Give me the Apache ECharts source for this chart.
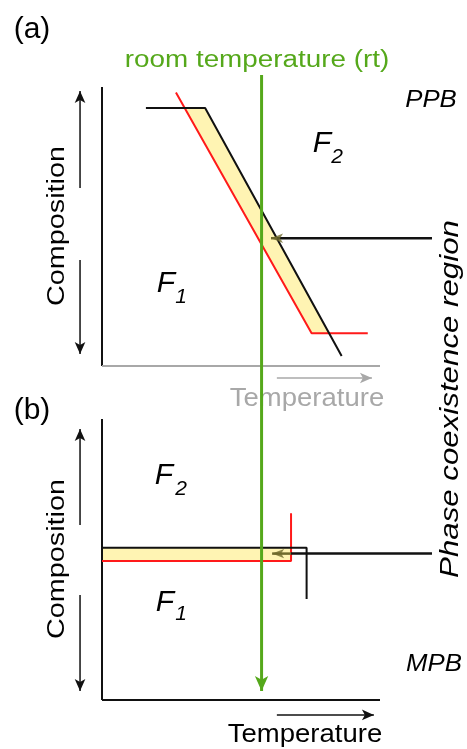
<!DOCTYPE html>
<html>
<head>
<meta charset="utf-8">
<script src="https://cdn.jsdelivr.net/npm/echarts@6/dist/echarts.min.js"></script>
<style>html,body{margin:0;padding:0;background:#fff}#c{width:467px;height:749px}</style>
</head>
<body>
<div id="c"></div>
<script>
// ---- data (schematic units: temperature 0..100, composition 0..100) ----
// panel (a)
const aAxisY = [[0, 100], [0, 0]];
const aAxisX = [[0, 0], [100, 0]];
const aBlack = [[15.8, 92.5], [37.1, 92.5], [86.2, 3.6]];
const aRed = [[26.6, 98.0], [75.4, 11.7], [95.6, 11.7]];
const aFill = [[29.7, 92.5], [37.1, 92.5], [81.7, 11.7], [75.4, 11.7]];
const aArrowBlack = [[118.7, 45.8], [62.9, 45.8]];
const aArrowHead = [62.9, 45.8, 60.8];      // from x, y, head centre x
const aCompUp = [[-7.9, 63.8], [-7.9, 98.6]];
const aCompDown = [[-7.9, 38.0], [-7.9, 4.3]];
const aTempArrow = [[62.9, -4.3], [97.1, -4.3]];
// panel (b)
const bAxisY = [[0, 100], [0, 0]];
const bAxisX = [[0, 0], [100, 0]];
const bBlack = [[0, 54.2], [73.6, 54.2], [73.6, 35.9]];
const bRed = [[0, 49.5], [68.0, 49.5], [68.0, 66.5]];
const bFill = [[0, 54.2], [68.0, 54.2], [68.0, 49.5], [0, 49.5]];
const bArrowBlack = [[118.7, 52.1], [68.0, 52.1]];
const bArrowHead = [68.0, 52.1, 61.2];
const bCompUp = [[-7.9, 62.3], [-7.9, 96.4]];
const bCompDown = [[-7.9, 37.4], [-7.9, 3.2]];
const bTempArrow = [[62.9, -5.3], [97.8, -5.3]];
// room temperature line (panel b units, extends up through panel a)
const rtLine = [[57.4, 222.4], [57.4, 3.2]];

const FONT = '"Liberation Sans", Arial, sans-serif';
const GREEN = '#55a81b';
const XR = [-10, 122];
const YRA = [-10, 106];
const YRB = [-10, 225];

// place a grid so that data 0..100 lands on the given plot rectangle
function gridFor(left, top, w, h, xr, yr) {
  const sx = w / 100, sy = h / 100;
  return {
    left: left + xr[0] * sx, width: (xr[1] - xr[0]) * sx,
    top: top + h - yr[1] * sy, height: (yr[1] - yr[0]) * sy
  };
}

function arrowSeries(pts, idx, color, width, rot, size) {
  return {
    type: 'line', xAxisIndex: idx, yAxisIndex: idx, clip: false, silent: true,
    lineStyle: { color: color, width: width }, itemStyle: { color: color },
    showSymbol: true, animation: false, z: 5,
    data: [
      { value: pts[0], symbol: 'none' },
      { value: pts[1], symbol: 'arrow', symbolSize: size, symbolRotate: rot }
    ]
  };
}
function plainLine(pts, idx, color, width, z) {
  return {
    type: 'line', xAxisIndex: idx, yAxisIndex: idx, clip: false, silent: true,
    symbol: 'none', lineStyle: { color: color, width: width }, data: pts,
    animation: false, z: z || 4
  };
}
function fillSeries(pts, idx) {
  return {
    type: 'custom', xAxisIndex: idx, yAxisIndex: idx, silent: true, animation: false, z: 2,
    data: [0],
    renderItem: function (params, api) {
      return {
        type: 'polygon',
        shape: { points: pts.map(p => api.coord(p)) },
        style: { fill: '#fff4b3', stroke: null }
      };
    }
  };
}
function headSeries(h, idx) {
  return [
    plainLine([[h[0], h[1]], [h[2], h[1]]], idx, '#6f6a2c', 2.5, 6),
    {
      type: 'scatter', xAxisIndex: idx, yAxisIndex: idx, silent: true, animation: false, z: 6,
      symbol: 'arrow', symbolSize: [7, 12], symbolRotate: 90,
      itemStyle: { color: '#6f6a2c' }, data: [[h[2], h[1]]]
    }
  ];
}

const txt = (text, x, y, opt) => Object.assign({
  type: 'text', x: x, y: y, silent: true,
  style: Object.assign({ text: text, fontFamily: FONT, fontSize: 22, fill: '#000',
    align: 'center', verticalAlign: 'middle', textAlign: 'center', textVerticalAlign: 'middle' }, opt.style || {})
}, opt.el || {});

const hiddenAxis = (gi, r) => ({ gridIndex: gi, type: 'value', min: r[0], max: r[1], show: false,
  splitLine: { show: false } });

const chart = echarts.init(document.getElementById('c'), null, { renderer: 'canvas' });
chart.setOption({
  backgroundColor: '#fff',
  animation: false,
  grid: [
    gridFor(102, 87, 278, 279, XR, YRA),
    gridFor(102, 419, 278, 281, XR, YRB)
  ],
  xAxis: [hiddenAxis(0, XR), hiddenAxis(1, XR)],
  yAxis: [hiddenAxis(0, YRA), hiddenAxis(1, YRB)],
  series: [
    fillSeries(aFill, 0),
    plainLine(aAxisY, 0, '#111', 2),
    plainLine(aAxisX, 0, '#a8a8a8', 2),
    plainLine(aRed, 0, '#ff1a1a', 2),
    plainLine(aBlack, 0, '#111', 2),
    plainLine(aArrowBlack, 0, '#111', 2.5),
    ...headSeries(aArrowHead, 0),
    arrowSeries(aCompUp, 0, '#111', 1.5, 0, [8, 12]),
    arrowSeries(aCompDown, 0, '#111', 1.5, 180, [8, 12]),
    arrowSeries(aTempArrow, 0, '#a8a8a8', 1.5, -90, [8, 12]),
    fillSeries(bFill, 1),
    plainLine(bAxisY, 1, '#111', 2),
    plainLine(bAxisX, 1, '#111', 2),
    plainLine(bRed, 1, '#ff1a1a', 2),
    plainLine(bBlack, 1, '#111', 2),
    plainLine(bArrowBlack, 1, '#111', 2.5),
    ...headSeries(bArrowHead, 1),
    arrowSeries(bCompUp, 1, '#111', 1.5, 0, [8, 12]),
    arrowSeries(bCompDown, 1, '#111', 1.5, 180, [8, 12]),
    arrowSeries(bTempArrow, 1, '#111', 1.5, -90, [8, 12]),
    Object.assign(arrowSeries(rtLine, 1, GREEN, 3, 180, [10, 15]), { z: 8 })
  ],
  graphic: [
    txt('(a)', 32, 30, { style: { fontSize: 30 } }),
    txt('(b)', 32, 411, { style: { fontSize: 30 } }),
    txt('room temperature (rt)', 257, 61, { style: { fontSize: 23, fill: GREEN }, el: { scaleX: 1.21 } }),
    txt('PPB', 431, 101, { style: { fontSize: 23, fontStyle: 'italic' }, el: { scaleX: 1.12 } }),
    txt('MPB', 434, 665, { style: { fontSize: 23, fontStyle: 'italic' }, el: { scaleX: 1.12 } }),
    txt('Temperature', 307, 399, { style: { fontSize: 25, fill: '#a8a8a8' }, el: { scaleX: 1.1 } }),
    txt('Temperature', 305, 735, { style: { fontSize: 25 }, el: { scaleX: 1.1 } }),
    txt('Composition', 58, 226, { style: { fontSize: 23 }, el: { rotation: Math.PI / 2, scaleX: 1.25 } }),
    txt('Composition', 58, 559, { style: { fontSize: 23 }, el: { rotation: Math.PI / 2, scaleX: 1.25 } }),
    txt('Phase coexistence region', 451, 399, { style: { fontSize: 25, fontStyle: 'italic' }, el: { rotation: Math.PI / 2, scaleX: 1.25 } }),
    txt('F', 322, 144, { style: { fontSize: 30, fontStyle: 'italic' } }),
    txt('2', 337, 157, { style: { fontSize: 21, fontStyle: 'italic' } }),
    txt('F', 166, 284, { style: { fontSize: 30, fontStyle: 'italic' } }),
    txt('1', 181, 297, { style: { fontSize: 21, fontStyle: 'italic' } }),
    txt('F', 164, 476, { style: { fontSize: 30, fontStyle: 'italic' } }),
    txt('2', 181, 489, { style: { fontSize: 21, fontStyle: 'italic' } }),
    txt('F', 165, 603, { style: { fontSize: 30, fontStyle: 'italic' } }),
    txt('1', 181, 614, { style: { fontSize: 21, fontStyle: 'italic' } })
  ]
});
</script>
</body>
</html>
